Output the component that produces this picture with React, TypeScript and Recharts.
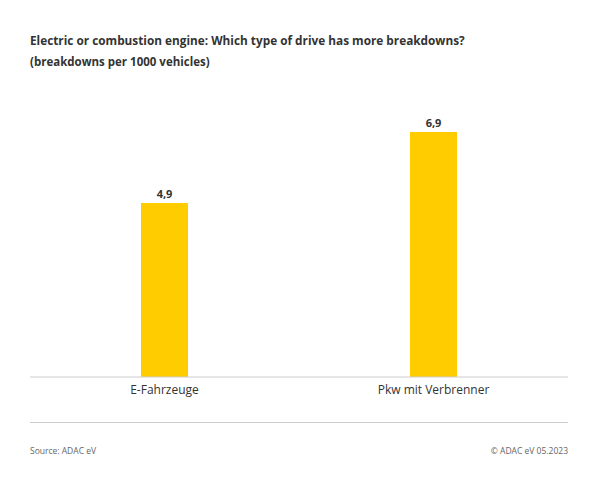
import { BarChart, Bar, XAxis, YAxis, LabelList } from "recharts";

const categories = ["E-Fahrzeuge", "Pkw mit Verbrenner"];
const breakdowns = [4.9, 6.9];

const data = categories.map((name, i) => ({ name, value: breakdowns[i] }));

const font = "'Open Sans', 'Noto Sans', sans-serif";
const textColor = "#333";

export default function App() {
  return (
    <div
      style={{
        position: "absolute",
        left: 0,
        top: 0,
        width: 600,
        height: 485,
        background: "#fff",
        fontFamily: font,
        color: textColor,
      }}
    >
      <div style={{ position: "absolute", left: 30, top: 32, fontSize: 11.8, fontWeight: 700 }}>
        Electric or combustion engine: Which type of drive has more breakdowns?
      </div>
      <div style={{ position: "absolute", left: 30, top: 54, fontSize: 11.5, fontWeight: 700 }}>
        (breakdowns per 1000 vehicles)
      </div>
      <BarChart
        width={600}
        height={485}
        data={data}
        margin={{ top: 93, right: 32, bottom: 78, left: 30 }}
        style={{ position: "absolute", left: 0, top: 0 }}
      >
        <XAxis
          dataKey="name"
          height={30}
          tickLine={false}
          axisLine={{ stroke: "#ccc" }}
          tick={{ fill: textColor, fontSize: 12, fontFamily: font }}
        />
        <YAxis hide domain={[0, 8]} />
        <Bar dataKey="value" fill="#FFCC00" barSize={47} isAnimationActive={false}>
          <LabelList
            dataKey="value"
            position="top"
            formatter={(v: number) => v.toFixed(1).replace(".", ",")}
            style={{ fill: textColor, fontSize: 11, fontWeight: 700, fontFamily: font }}
          />
        </Bar>
      </BarChart>
      <div style={{ position: "absolute", left: 30, top: 422, width: 538, borderTop: "1px solid #ccc" }} />
      <div style={{ position: "absolute", left: 30, top: 445, fontSize: 8.5, color: "#666" }}>
        Source: ADAC eV
      </div>
      <div style={{ position: "absolute", right: 32, top: 445, fontSize: 8.5, color: "#666" }}>
        © ADAC eV 05.2023
      </div>
    </div>
  );
}
